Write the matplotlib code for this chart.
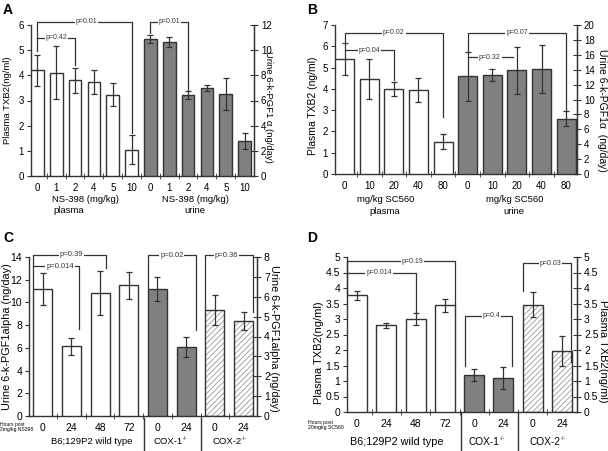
import matplotlib.pyplot as plt
import matplotlib.transforms as mtransforms

plt.rcParams['font.family'] = ['Liberation Sans', 'DejaVu Sans']
plt.rcParams['hatch.linewidth'] = 0.6

EDGE = '#333333'
GRAY = '#808080'
W, H = 608, 451

# ---- Panel A data (NS-398)
a_doses = ['0', '1', '2', '4', '5', '10']
a_plasma = [4.2, 4.1, 3.8, 3.72, 3.23, 1.05]
a_plasma_err = [0.62, 1.06, 0.5, 0.48, 0.45, 0.56]
a_urine = [10.89, 10.65, 6.41, 6.97, 6.52, 2.75]
a_urine_err = [0.33, 0.4, 0.32, 0.25, 1.25, 0.64]

# ---- Panel B data (SC560)
b_doses = ['0', '10', '20', '40', '80']
b_plasma = [5.4, 4.45, 4.0, 3.95, 1.52]
b_plasma_err = [0.77, 0.93, 0.32, 0.57, 0.35]
b_urine = [13.1, 13.24, 13.9, 14.06, 7.43]
b_urine_err = [3.3, 0.81, 3.15, 3.2, 1.0]

# ---- Panel C / D data (hours post dose, by genotype)
cd_hours = ['0', '24', '48', '72', '0', '24', '0', '24']
cd_kind = ['wt', 'wt', 'wt', 'wt', 'cox1', 'cox1', 'cox2', 'cox2']
c_vals = [11.2, 6.13, 10.83, 11.5, 11.2, 6.05, 9.36, 8.34]
c_err = [1.4, 0.77, 1.9, 1.2, 1.07, 0.88, 1.32, 0.78]
d_vals = [3.76, 2.8, 3.0, 3.44, 1.2, 1.1, 3.46, 1.96]
d_err = [0.135, 0.08, 0.19, 0.2, 0.2, 0.35, 0.41, 0.48]

# brackets: (x1, x2, y, end1, end2, label, text_x)
a_br_left = [(0, 5, 6.12, 4.95, 1.7, 'p=0.01', 2.6),
             (0, 2, 5.5, 5.5, 4.4, 'p=0.42', 1.0)]
a_br_right = [(6, 8, 12.24, 11.35, 6.85, 'p=0.01', 7.0)]
b_br_left = [(0, 4, 6.64, 6.2, 2.7, 'p=0.02', 2.0),
             (0, 2, 5.82, 5.82, 4.4, 'p=0.04', 1.0)]
b_br_right = [(5, 9, 18.97, 16.5, 8.6, 'p=0.07', 7.0),
              (5, 6.85, 15.7, 15.7, 15.7, 'p=0.32', 5.9)]
c_br = [(-0.33, 2.2, 14.2, 11.3, 13.0, 'p=0.39', 1.0),
        (-0.33, 1.26, 13.2, 13.2, 7.7, 'p=0.014', 0.6),
        (3.67, 5.33, 14.15, 11.3, 7.6, 'p=0.02', 4.5),
        (5.67, 7.33, 14.15, 9.4, 9.15, 'p=0.36', 6.4)]
d_br = [(-0.34, 3.34, 4.86, 3.8, 3.45, 'p=0.19', 1.9),
        (-0.34, 2.0, 4.5, 4.5, 3.22, 'p=0.014', 0.75),
        (3.68, 5.3, 3.1, 1.5, 1.5, 'p=0.4', 4.6),
        (5.68, 7.32, 4.8, 3.9, 1.6, 'p=0.03', 6.6)]

half_ticks = [i * 0.5 for i in range(11)]
half_labels = ['0', '0.5', '1', '1.5', '2', '2.5', '3', '3.5', '4', '4.5', '5']


def px_axes(l, t, r, b):
    return [l / W, 1 - b / H, (r - l) / W, (b - t) / H]


def ftext(x, y, s, **kw):
    fig.text(x / W, 1 - y / H, s, **kw)


def knockout(x, y, name, fs):
    # name with a small "-/-" superscript, centred on x
    main_w = len(name) * 0.61 * fs * 100 / 72
    ftext(x - 4, y, name, fontsize=fs, ha='center', va='center')
    ftext(x - 4 + main_w / 2, y - 3.5, '-/-', fontsize=fs * 0.55, ha='left', va='center')


def style(ax, n, xlim, labels, size=7):
    ax.set_xlim(*xlim)
    ax.spines['top'].set_visible(False)
    for s in ax.spines.values():
        s.set_color(EDGE)
        s.set_linewidth(1)
    ax.set_xticks(range(n))
    ax.set_xticklabels(labels, fontsize=size)
    ax.set_xticks([k + 0.5 for k in range(n - 1)], minor=True)
    ax.tick_params(axis='x', which='major', length=0, pad=5)
    ax.tick_params(axis='x', which='minor', length=4, direction='inout', color=EDGE)
    ax.tick_params(axis='y', direction='out', length=3, color=EDGE, labelsize=size, pad=2)


def right_style(ax2, size=7):
    for k in ['top', 'left', 'bottom']:
        ax2.spines[k].set_visible(False)
    ax2.spines['right'].set_color(EDGE)
    ax2.tick_params(axis='y', direction='inout', length=6, color=EDGE, labelsize=size, pad=2)


def bars(ax, x, vals, errs, width, kind):
    for xi, v, e, k in zip(x, vals, errs, kind):
        if k == 'cox2':
            ax.bar(xi, v, width, color='white', edgecolor='#9a9a9a', hatch='//////', lw=0, zorder=2)
            ax.bar(xi, v, width, color='none', edgecolor=EDGE, lw=1, zorder=3)
        else:
            fc = GRAY if k in ('gray', 'cox1') else 'white'
            ax.bar(xi, v, width, color=fc, edgecolor=EDGE, lw=1, zorder=3)
        ax.errorbar(xi, v, yerr=e, fmt='none', ecolor=EDGE, elinewidth=0.9,
                    capsize=2.5, capthick=0.9, zorder=4)


def brackets(ax, specs, fs):
    for x1, x2, y, e1, e2, lab, tx in specs:
        ax.plot([x1, x1, x2, x2], [e1, y, y, e2], color=EDGE, lw=0.9, clip_on=False, zorder=5)
        ax.text(tx, y, lab, fontsize=fs, ha='center', va='center', color=EDGE, zorder=6,
                bbox=dict(facecolor='white', edgecolor='none', pad=0.6), clip_on=False)


def separators(ax, xs, y0, y1):
    tr = mtransforms.blended_transform_factory(ax.transData, ax.transAxes)
    for xs_ in xs:
        ax.plot([xs_, xs_], [y0, y1], color=EDGE, lw=1, transform=tr, clip_on=False)


fig = plt.figure(figsize=(W / 100, H / 100), dpi=100)

# ---------------- Panel A
ax = fig.add_axes(px_axes(31, 25, 254, 176))
style(ax, 12, (-0.34, 11.5), a_doses + a_doses)
ax.set_ylim(0, 6)
bars(ax, range(6), a_plasma, a_plasma_err, 0.67, ['white'] * 6)
ax2 = ax.twinx()
ax2.set_ylim(0, 12)
ax2.set_yticks(range(0, 13, 2))
right_style(ax2)
bars(ax2, range(6, 12), a_urine, a_urine_err, 0.67, ['gray'] * 6)
brackets(ax, a_br_left, 5)
brackets(ax2, a_br_right, 5)
ftext(85, 200, 'NS-398 (mg/kg)', fontsize=6.8, ha='center', va='center')
ftext(53, 211, 'plasma', fontsize=6.8, ha='left', va='center')
ftext(195, 200, 'NS-398 (mg/kg)', fontsize=6.8, ha='center', va='center')
ftext(195, 211, 'urine', fontsize=6.8, ha='center', va='center')
ftext(8, 100, 'Plasma TXB2(ng/ml)', fontsize=6.8, rotation=90, ha='center', va='center')
ftext(268, 107, 'Urine 6-k-PGF1 α (ng/day)', fontsize=6.8, rotation=270, ha='center', va='center')
ftext(3, 3, 'A', fontsize=10, fontweight='bold', ha='left', va='top')

# ---------------- Panel B
ax = fig.add_axes(px_axes(335, 25, 577, 174))
style(ax, 10, (-0.39, 9.44), b_doses + b_doses)
ax.set_ylim(0, 7)
bars(ax, range(5), b_plasma, b_plasma_err, 0.77, ['white'] * 5)
ax2 = ax.twinx()
ax2.set_ylim(0, 20)
ax2.set_yticks(range(0, 21, 2))
right_style(ax2)
bars(ax2, range(5, 10), b_urine, b_urine_err, 0.77, ['gray'] * 5)
brackets(ax, b_br_left, 5)
brackets(ax2, b_br_right, 5)
ftext(386, 200, 'mg/kg SC560', fontsize=6.8, ha='center', va='center')
ftext(385, 212, 'plasma', fontsize=6.8, ha='center', va='center')
ftext(515, 200, 'mg/kg SC560', fontsize=6.8, ha='center', va='center')
ftext(514, 212, 'urine', fontsize=6.8, ha='center', va='center')
ftext(313, 106, 'Plasma TXB2 (ng/ml)', fontsize=7.5, rotation=90, ha='center', va='center')
ftext(602, 110, 'Urine 6-k-PGF1α  (ng/day)', fontsize=7.5, rotation=270, ha='center', va='center')
ftext(307, 3, 'B', fontsize=10, fontweight='bold', ha='left', va='top')

# ---------------- Panel C
ax = fig.add_axes(px_axes(29, 257, 257, 416))
style(ax, 8, (-0.48, 7.47), cd_hours, size=7.5)
ax.set_ylim(0, 14)
ax.set_yticks(range(0, 15, 2))
bars(ax, range(8), c_vals, c_err, 0.66, cd_kind)
ax2 = ax.twinx()
ax2.set_ylim(0, 8)
ax2.set_yticks(range(9))
right_style(ax2, 7.5)
brackets(ax, c_br, 5.5)
separators(ax, [3.53, 5.5], -0.01, -0.22)
ftext(92, 442, 'B6;129P2 wild type', fontsize=6.8, ha='center', va='center')
knockout(172, 442, 'COX-1', 6.8)
knockout(231, 442, 'COX-2', 6.8)
ftext(0, 427, 'Hours post\n2mg/kg NS398', fontsize=3.6, ha='left', va='center', linespacing=1.2)
ftext(7, 337, 'Urine 6-k-PGF1alpha (ng/day)', fontsize=7.8, rotation=90, ha='center', va='center')
ftext(274, 338, 'Urine 6-k-PGF1alpha (ng/day)', fontsize=7.8, rotation=270, ha='center', va='center')
ftext(3, 231, 'C', fontsize=10, fontweight='bold', ha='left', va='top')

# ---------------- Panel D
ax = fig.add_axes(px_axes(347, 257, 577, 412))
style(ax, 8, (-0.34, 7.51), cd_hours, size=7.5)
ax.set_ylim(0, 5)
ax.set_yticks(half_ticks)
ax.set_yticklabels(half_labels)
bars(ax, range(8), d_vals, d_err, 0.68, cd_kind)
ax2 = ax.twinx()
ax2.set_ylim(0, 5)
ax2.set_yticks(half_ticks)
ax2.set_yticklabels(half_labels)
right_style(ax2, 7.5)
brackets(ax, d_br, 5)
separators(ax, [3.56, 5.5], 0.0, -0.25)
ftext(397, 442, 'B6;129P2 wild type', fontsize=7.8, ha='center', va='center')
knockout(488, 442, 'COX-1', 7.3)
knockout(549, 442, 'COX-2', 7.3)
ftext(308, 425, 'Hours post\n20mgkg SC560', fontsize=3.7, ha='left', va='center', linespacing=1.2)
ftext(319, 353, 'Plasma TXB2(ng/ml)', fontsize=8, rotation=90, ha='center', va='center')
ftext(603, 351, 'Plasma TXB2(ng/ml)', fontsize=8, rotation=270, ha='center', va='center')
ftext(307, 231, 'D', fontsize=10, fontweight='bold', ha='left', va='top')

fig.savefig('out.png', dpi=100)
